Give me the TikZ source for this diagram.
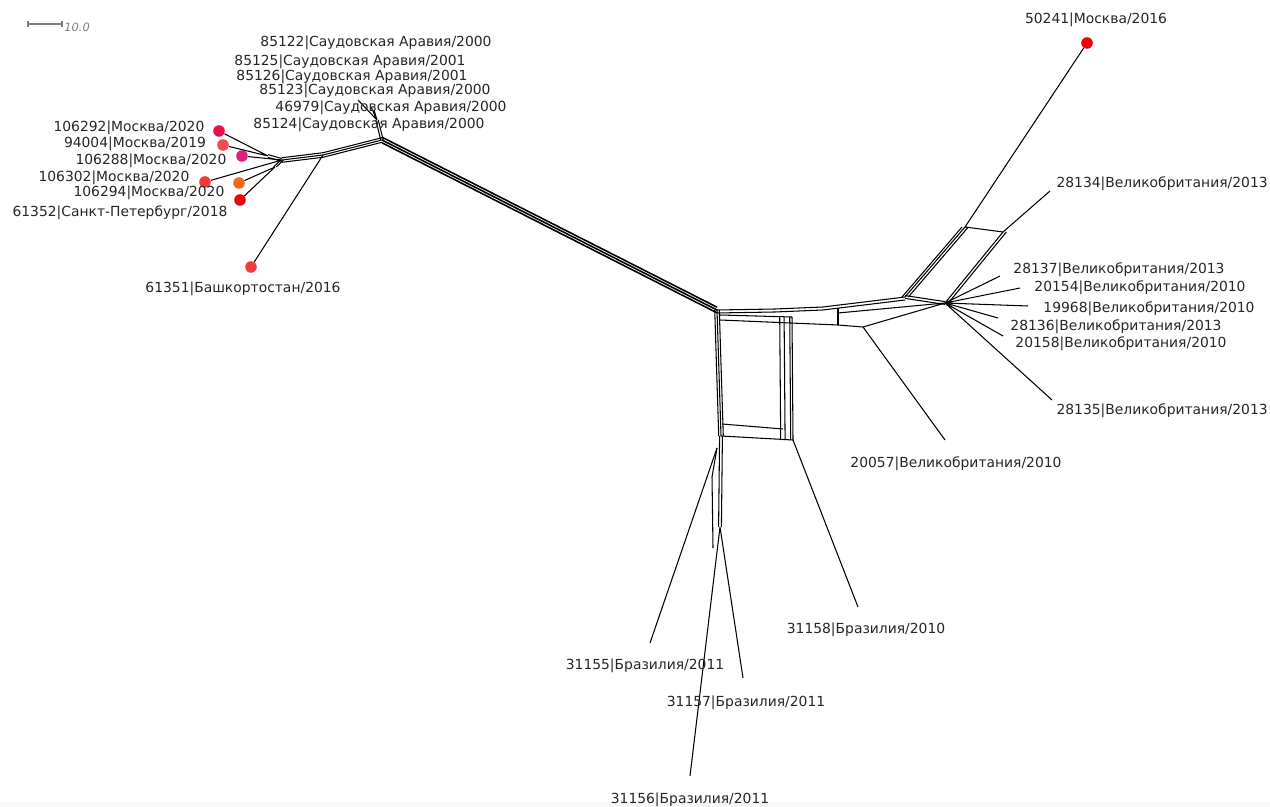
\documentclass[tikz,border=0pt]{standalone}
\usepackage{fontspec}
\setmainfont{DejaVu Sans}
\definecolor{dotcrimson}{HTML}{E8124A}
\definecolor{dotrose}{HTML}{EE4B55}
\definecolor{dotmagenta}{HTML}{DE1E80}
\definecolor{dotred}{HTML}{F23B3B}
\definecolor{dotorange}{HTML}{F26A12}
\definecolor{dotpure}{HTML}{F00008}
\begin{document}
\begin{tikzpicture}[
    x=0.02cm,y=-0.02cm,
    split/.style={draw=black,line width=0.6pt},
    trunk/.style={draw=black,line width=0.9pt},
    leaf/.style={circle,inner sep=0pt,minimum size=6.6pt},
    taxon/.style={font=\fontsize{7.9}{9}\selectfont,text=black!85,inner sep=0pt}
  ]
    \useasboundingbox (0,0) rectangle (1270,807);
    \fill[gray!6] (0,802) rectangle (1270,807);

    \coordinate (sb1) at (28,24);
    \coordinate (sb2) at (62,24);
    \draw[gray,line width=0.6pt] (sb1) -- (sb2)
      ([yshift=1.8pt]sb1) -- ([yshift=-1.8pt]sb1)
      ([yshift=1.8pt]sb2) -- ([yshift=-1.8pt]sb2);
    \node[font=\itshape\fontsize{6.5}{8}\selectfont,text=gray,anchor=west,inner sep=0pt]
      (sbl) at (64,27) {10.0};

    \node[leaf,fill=dotcrimson] (m106292) at (219,131) {};
    \node[leaf,fill=dotrose] (m94004) at (223,145) {};
    \node[leaf,fill=dotmagenta] (m106288) at (242,156) {};
    \node[leaf,fill=dotred] (m106302) at (205,182) {};
    \node[leaf,fill=dotorange] (m106294) at (239,183) {};
    \node[leaf,fill=dotpure] (m61352) at (240,200) {};
    \node[leaf,fill=dotred] (m61351) at (251,267) {};
    \node[leaf,fill=dotpure] (m50241) at (1087,43) {};

    \coordinate (L1) at (282,160);
    \coordinate (La) at (268,156);
    \coordinate (Lb) at (275,167);
    \coordinate (L2) at (323,155);
    \coordinate (S) at (382,140);
    \coordinate (Sa) at (377,120);
    \coordinate (s1) at (358,100);
    \coordinate (s2) at (371,107);
    \coordinate (s3) at (374,110);
    \coordinate (C1) at (717,310);
    \coordinate (Ta) at (775,309);
    \coordinate (Tb) at (823,307);
    \coordinate (R1) at (905,297);
    \coordinate (R2) at (945,303);
    \coordinate (Ma) at (720,315);
    \coordinate (Mb) at (792,317);
    \coordinate (Mc) at (838,313);
    \coordinate (Md) at (838,308);
    \coordinate (Na) at (720,320);
    \coordinate (Nb) at (838,325);
    \coordinate (Nc) at (863,327);
    \coordinate (BL) at (721,436);
    \coordinate (BR) at (793,440);
    \coordinate (Bm) at (722,424);
    \coordinate (Bn) at (783,429);
    \coordinate (D1) at (720,527);
    \coordinate (Da) at (717,448);
    \coordinate (Db) at (712,477);
    \coordinate (Dc) at (713,548);
    \coordinate (U1) at (965,227);
    \coordinate (U2) at (1003,232);

    \coordinate (e31155) at (650,643);
    \coordinate (e31156) at (690,776);
    \coordinate (e31157) at (743,678);
    \coordinate (e31158) at (858,607);
    \coordinate (e20057) at (945,440);
    \coordinate (e28134) at (1050,191);
    \coordinate (e28137) at (1000,276);
    \coordinate (e20154) at (1020,288);
    \coordinate (e19968) at (1028,306);
    \coordinate (e28136) at (998,318);
    \coordinate (e20158) at (1003,336);
    \coordinate (e28135) at (1052,400);

    \draw[split] (m106292) -- (La) (m94004) -- (La) (m106288) -- (L1)
      (m106302) -- (L1) (m106294) -- (Lb) (m61352) -- (Lb);
    \foreach \o in {-0.8,0.8}
      \draw[split] ([yshift=\o pt]La) -- ([yshift=\o pt]L1);
    \foreach \o in {-0.8,0.8}
      \draw[split] ([xshift=\o pt]Lb) -- ([xshift=\o pt]L1);
    \foreach \o in {-1.3,0,1.3}
      \draw[split] ([yshift=\o pt]L1) -- ([yshift=\o pt]L2) -- ([yshift=\o pt]S);
    \draw[split] (m61351) -- (L2);

    \foreach \o in {-0.7,0.7}
      \draw[split] ([xshift=\o pt]S) -- ([xshift=\o pt]Sa);
    \draw[split] (Sa) -- (s1) (Sa) -- (s2) (Sa) -- (s3);

    \foreach \o in {-1.6,0,1.6}
      \draw[trunk] ([yshift=\o pt]S) -- ([yshift=\o pt]C1);

    \foreach \o in {0,-1.7}
      \draw[split] ([yshift=\o pt]C1) -- ([yshift=\o pt]Ta)
        -- ([yshift=\o pt]Tb) -- ([yshift=\o pt]R1);
    \draw[split] (Ma) -- (Mb) (Mc) -- (R2) (Na) -- (Nb) -- (Nc) -- (R2);
    \draw[split] (Md) -- (Nb);
    \foreach \o in {-0.8,0.8}
      \draw[split] ([yshift=\o pt]R1) -- ([yshift=\o pt]R2);

    \foreach \o in {-1.3,0,1.3}
      \draw[split] ([xshift=\o pt]C1) -- ([xshift=\o pt]BL);
    \foreach \o in {0,-1.3,-4.5,-7}
      \draw[split] ([xshift=\o pt]Mb) -- ([xshift=\o pt]BR);
    \draw[split] (BL) -- (BR) (Bm) -- (Bn);

    \foreach \o in {-0.8,0.8}
      \draw[split] ([xshift=\o pt]BL) -- ([xshift=\o pt]D1);
    \draw[split] (Da) -- (Db) -- (Dc);
    \draw[split] (Da) -- (e31155) (D1) -- (e31156) (D1) -- (e31157)
      (BR) -- (e31158) (Nc) -- (e20057);

    \foreach \o in {-1.7,0,1.9}
      \draw[split] ([xshift=\o pt]R1) -- ([xshift=\o pt]U1);
    \foreach \o in {0,1.9}
      \draw[split] ([xshift=\o pt]R2) -- ([xshift=\o pt]U2);
    \draw[split] (U1) -- (U2) (U1) -- (m50241) (U2) -- (e28134);
    \draw[split] (R2) -- (e28137) (R2) -- (e20154) (R2) -- (e19968)
      (R2) -- (e28136) (R2) -- (e20158) (R2) -- (e28135);

    \node[taxon] (t85122) at (376,43) {85122|Саудовская Аравия/2000};
    \node[taxon] (t85125) at (350,62) {85125|Саудовская Аравия/2001};
    \node[taxon] (t85126) at (352,77) {85126|Саудовская Аравия/2001};
    \node[taxon] (t85123) at (375,91) {85123|Саудовская Аравия/2000};
    \node[taxon] (t46979) at (391,108) {46979|Саудовская Аравия/2000};
    \node[taxon] (t85124) at (369,125) {85124|Саудовская Аравия/2000};
    \node[taxon] (t106292) at (129,128) {106292|Москва/2020};
    \node[taxon] (t94004) at (135,144) {94004|Москва/2019};
    \node[taxon] (t106288) at (151,161) {106288|Москва/2020};
    \node[taxon] (t106302) at (114,178) {106302|Москва/2020};
    \node[taxon] (t106294) at (149,193) {106294|Москва/2020};
    \node[taxon] (t61352) at (120,213) {61352|Санкт-Петербург/2018};
    \node[taxon] (t61351) at (243,289) {61351|Башкортостан/2016};
    \node[taxon] (t50241) at (1096,20) {50241|Москва/2016};
    \node[taxon,anchor=east] (t28134) at (1268,184) {28134|Великобритания/2013};
    \node[taxon] (t28137) at (1119,270) {28137|Великобритания/2013};
    \node[taxon] (t20154) at (1140,288) {20154|Великобритания/2010};
    \node[taxon] (t19968) at (1149,309) {19968|Великобритания/2010};
    \node[taxon] (t28136) at (1116,327) {28136|Великобритания/2013};
    \node[taxon] (t20158) at (1121,344) {20158|Великобритания/2010};
    \node[taxon,anchor=east] (t28135) at (1268,411) {28135|Великобритания/2013};
    \node[taxon] (t20057) at (956,464) {20057|Великобритания/2010};
    \node[taxon] (t31158) at (866,630) {31158|Бразилия/2010};
    \node[taxon] (t31155) at (645,666) {31155|Бразилия/2011};
    \node[taxon] (t31157) at (746,703) {31157|Бразилия/2011};
    \node[taxon] (t31156) at (690,800) {31156|Бразилия/2011};
\end{tikzpicture}
\end{document}
